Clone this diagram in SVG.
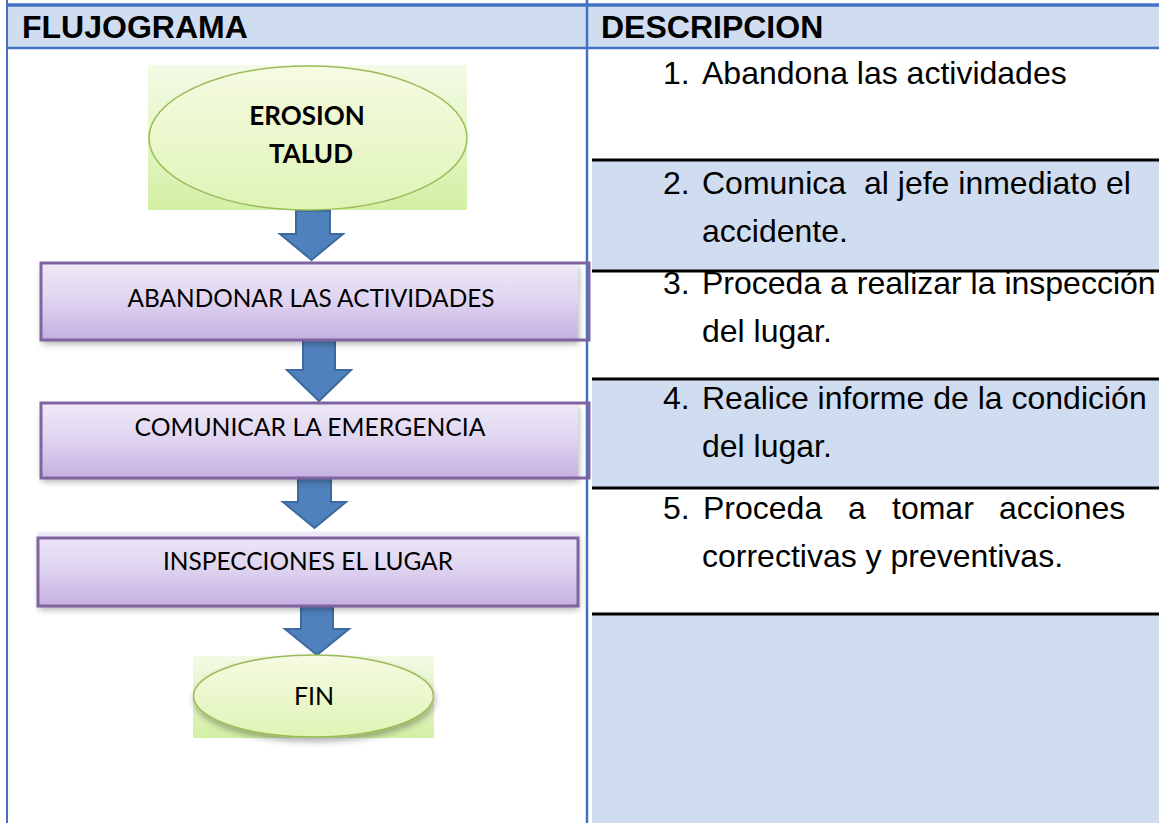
<svg xmlns="http://www.w3.org/2000/svg" width="1159" height="823" viewBox="0 0 1159 823">
<defs>
<linearGradient id="boxFill" x1="0" y1="0" x2="0" y2="1">
<stop offset="0" stop-color="#EEE9F8"/><stop offset="0.45" stop-color="#E1D6F1"/><stop offset="1" stop-color="#C5B0E1"/>
</linearGradient>
<linearGradient id="greenBg" x1="0" y1="0" x2="0" y2="1">
<stop offset="0" stop-color="#F3FBE6"/><stop offset="1" stop-color="#D3F0A4"/>
</linearGradient>
<linearGradient id="ellFill" x1="0" y1="0" x2="0" y2="1">
<stop offset="0" stop-color="#F6FBE2"/><stop offset="1" stop-color="#DFF4B6"/>
</linearGradient>
<filter id="shadow" x="-5%" y="-20%" width="110%" height="150%">
<feDropShadow dx="1" dy="4" stdDeviation="3" flood-color="#000" flood-opacity="0.3"/>
</filter>
<style>
.hdr{font-family:"Liberation Sans",Arial,sans-serif;font-weight:bold;font-size:32px;fill:#000}
.desc{font-family:"Liberation Sans",Arial,sans-serif;font-size:32px;fill:#000}
.lbl{font-family:Lato,"Open Sans",sans-serif;font-size:25px;fill:#000}
.lblb{font-family:Lato,"Open Sans",sans-serif;font-size:26px;font-weight:bold;fill:#000}
.box{fill:url(#boxFill);filter:url(#shadow)}
.boxb{fill:none;stroke:#8064A2;stroke-width:3}
.arrow{fill:#4F81BD;stroke:#3D6A9E;stroke-width:2;stroke-linejoin:miter}
.rowline{stroke:#000;stroke-width:3}
.blue{fill:#D0DCEF}
.tline{stroke:#4472C4;fill:none}
.ell{fill:url(#ellFill);stroke:#9BBB59;stroke-width:1.5}
</style>
</defs>
<rect width="1159" height="823" fill="#fff"/>
<g id="table">
<rect class="blue" x="8" y="6" width="1151" height="41"/>
<rect class="blue" x="592" y="161" width="567" height="110"/>
<rect class="blue" x="592" y="379" width="567" height="109"/>
<rect class="blue" x="592" y="614" width="567" height="209"/>
<line class="tline" x1="7" y1="5" x2="1159" y2="5" stroke-width="3.5"/>
<line class="tline" x1="7" y1="48" x2="1159" y2="48" stroke-width="2.5"/>
<line class="tline" x1="7" y1="0" x2="7" y2="823" stroke-width="2" stroke="#5F82C0"/>
<line class="tline" x1="587" y1="0" x2="587" y2="823" stroke-width="2.5" stroke="#5F82C0"/>
<line class="rowline" x1="592" y1="160" x2="1159" y2="160"/>
<line class="rowline" x1="592" y1="271" x2="1159" y2="271"/>
<line class="rowline" x1="592" y1="379" x2="1159" y2="379"/>
<line class="rowline" x1="592" y1="488" x2="1159" y2="488"/>
<line class="rowline" x1="592" y1="614" x2="1159" y2="614"/>
<text class="hdr" x="22" y="38">FLUJOGRAMA</text>
<text class="hdr" x="601" y="38">DESCRIPCION</text>
</g>
<g id="description">
<text class="desc" x="663" y="84">1.</text><text class="desc" x="702" y="84">Abandona las actividades</text>
<text class="desc" x="663" y="194">2.</text><text class="desc" x="702" y="194">Comunica</text><text class="desc" x="864" y="194">al jefe inmediato el</text>
<text class="desc" x="702" y="242">accidente.</text>
<text class="desc" x="663" y="294">3.</text><text class="desc" x="702" y="294">Proceda a realizar la inspección</text>
<text class="desc" x="702" y="342">del lugar.</text>
<text class="desc" x="663" y="409">4.</text><text class="desc" x="702" y="409">Realice informe de la condición</text>
<text class="desc" x="702" y="457">del lugar.</text>
<text class="desc" x="663" y="519">5.</text><text class="desc" x="703" y="519">Proceda</text><text class="desc" x="848" y="519">a</text><text class="desc" x="892" y="519">tomar</text><text class="desc" x="999" y="519">acciones</text>
<text class="desc" x="702" y="567">correctivas y preventivas.</text>
</g>
<g id="connectors">
<path class="arrow" d="M296,211 H330 V234 H343 L311.5,260 L280,234 H296 Z"/>
<path class="arrow" d="M303,338 H335 V370 H351 L319,401 L287,370 H303 Z"/>
<path class="arrow" d="M298,476 H331 V502 H346 L314.5,528 L283,502 H298 Z"/>
<path class="arrow" d="M301,603 H333 V629 H349 L317,655 L285,629 H301 Z"/>
</g>
<g id="node-erosion">
<rect x="148" y="65" width="319" height="145" fill="url(#greenBg)"/>
<ellipse class="ell" cx="308" cy="138" rx="159" ry="72"/>
<text class="lblb" x="307" y="125" text-anchor="middle">EROSION</text>
<text class="lblb" x="311" y="163" text-anchor="middle">TALUD</text>
</g>
<g id="node-abandonar">
<rect class="box" x="41" y="263" width="537" height="77"/>
<rect class="boxb" x="41" y="263" width="548" height="77"/>
<text class="lbl" x="311" y="307" text-anchor="middle" textLength="367" lengthAdjust="spacingAndGlyphs">ABANDONAR LAS ACTIVIDADES</text>
</g>
<g id="node-comunicar">
<rect class="box" x="41" y="403" width="537" height="75"/>
<rect class="boxb" x="41" y="403" width="548" height="75"/>
<text class="lbl" x="310" y="436" text-anchor="middle" textLength="351" lengthAdjust="spacingAndGlyphs">COMUNICAR LA EMERGENCIA</text>
</g>
<g id="node-inspecciones">
<rect class="box" x="38" y="532" width="540" height="74"/>
<rect class="boxb" x="38" y="538" width="540" height="68"/>
<text class="lbl" x="308" y="570" text-anchor="middle" textLength="290" lengthAdjust="spacingAndGlyphs">INSPECCIONES EL LUGAR</text>
</g>
<g id="node-fin">
<rect x="193" y="656" width="241" height="82" fill="url(#greenBg)"/>
<ellipse class="ell" cx="313.5" cy="696" rx="120" ry="41" filter="url(#shadow)"/>
<text class="lbl" x="314" y="705" text-anchor="middle" font-size="26">FIN</text>
</g>
</svg>
